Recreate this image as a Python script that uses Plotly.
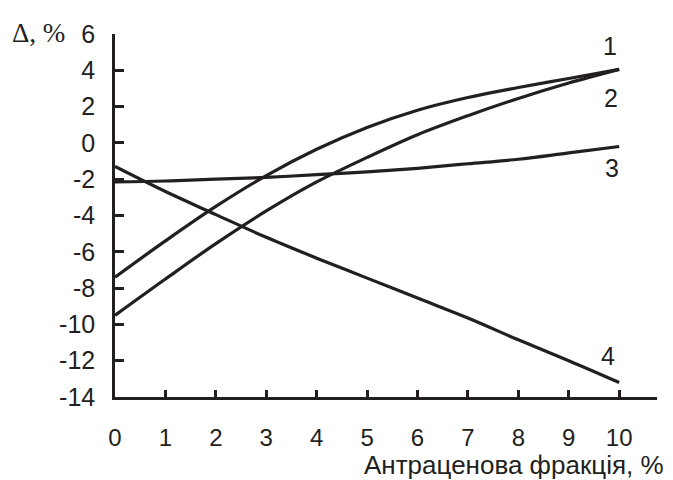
import plotly.graph_objects as go

x_vals = [0, 1, 2, 3, 4, 5, 6, 7, 8, 9, 10]
curve1 = [-7.4, -5.4, -3.5, -1.8, -0.35, 0.85, 1.8, 2.5, 3.05, 3.55, 4.05]
curve2 = [-9.5, -7.5, -5.55, -3.75, -2.15, -0.8, 0.45, 1.5, 2.45, 3.3, 4.05]
curve3 = [-2.15, -2.1, -2.0, -1.9, -1.75, -1.6, -1.4, -1.15, -0.9, -0.55, -0.2]
curve4 = [-1.3, -2.68, -3.95, -5.2, -6.35, -7.45, -8.55, -9.65, -10.85, -12.0, -13.2]
curve_names = ["1", "2", "3", "4"]
x_ticks = [0, 1, 2, 3, 4, 5, 6, 7, 8, 9, 10]
y_ticks = [-14, -12, -10, -8, -6, -4, -2, 0, 2, 4, 6]

INK = "#231f20"
fig = go.Figure()
for name, ys in zip(curve_names, [curve1, curve2, curve3, curve4]):
    fig.add_trace(go.Scatter(x=x_vals, y=ys, mode="lines", name=name,
                             line=dict(color=INK, width=3.2, shape="spline", smoothing=1.0),
                             showlegend=False, hoverinfo="skip"))

# curve labels
label_pos = [(9.82, 5.35), (9.84, 2.45), (9.86, -1.4), (9.78, -11.75)]
for name, (lx, ly) in zip(curve_names, label_pos):
    fig.add_annotation(x=lx, y=ly, text=name, showarrow=False,
                       font=dict(family="Liberation Sans, Arial", size=25, color=INK),
                       xanchor="center", yanchor="middle")

fig.add_annotation(xref="paper", yref="paper", x=0, y=1, xshift=-48, yshift=1,
                   text="Δ, %", showarrow=False, xanchor="right", yanchor="middle",
                   font=dict(family="Liberation Serif, Times New Roman", size=27, color=INK))
fig.add_annotation(xref="paper", yref="paper", x=1, y=0, xshift=8, yshift=-68,
                   text="Антраценова фракція, %", showarrow=False, xanchor="right", yanchor="middle",
                   borderpad=0,
                   font=dict(family="Liberation Sans, Arial", size=26, color=INK))

fig.update_layout(
    width=673, height=480,
    margin=dict(l=107, r=24, t=18, b=91),
    paper_bgcolor="white", plot_bgcolor="white",
    font=dict(family="Liberation Sans, Arial", size=24, color=INK),
)
fig.update_xaxes(range=[0, 10.75], tickvals=x_ticks, ticktext=[str(v) for v in x_ticks],
                 showgrid=False, zeroline=False, showline=True, linecolor=INK, linewidth=2.5,
                 ticks="inside", ticklen=7, tickwidth=2.5, tickcolor=INK,
                 ticklabelstandoff=17, tickfont=dict(size=24))
fig.update_yaxes(range=[-14, 6], tickvals=y_ticks, ticktext=[str(v) for v in y_ticks],
                 showgrid=False, zeroline=False, showline=True, linecolor=INK, linewidth=2.5,
                 ticks="inside", ticklen=9, tickwidth=2.5, tickcolor=INK,
                 ticklabelstandoff=12, tickfont=dict(size=25))

fig.write_html("out.html")
